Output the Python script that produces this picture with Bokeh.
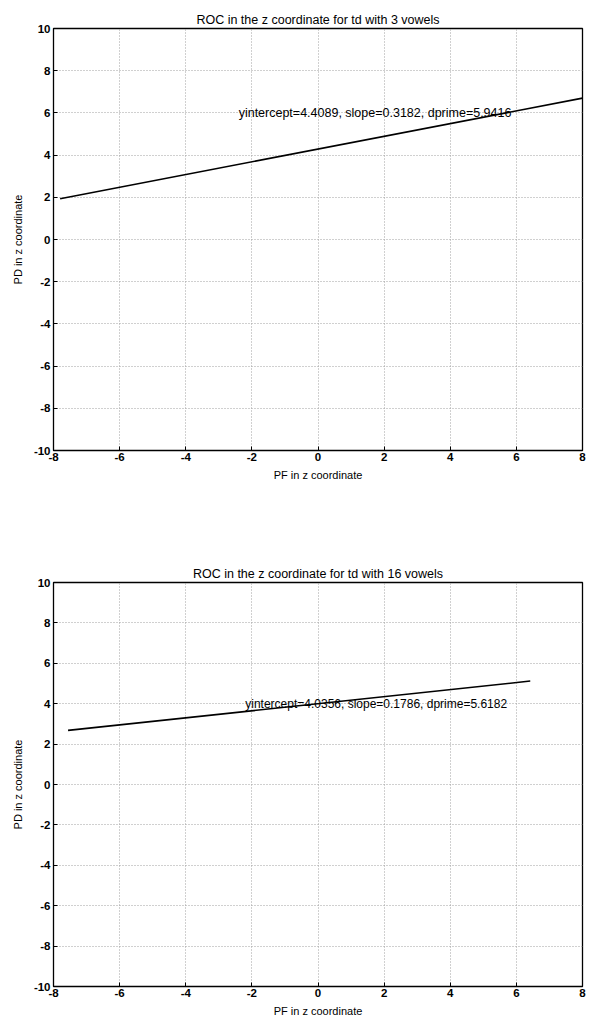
from bokeh.plotting import figure
from bokeh.layouts import column
from bokeh.models import Label, FixedTicker, Range1d, PrintfTickFormatter
from bokeh.embed import file_html
from bokeh.resources import INLINE

# ---- data ----
top_title = "ROC in the z coordinate for td with 3 vowels"
top_x = [-7.8, 8.0]
top_y = [1.93, 6.7]
top_note = "yintercept=4.4089, slope=0.3182, dprime=5.9416"

bot_title = "ROC in the z coordinate for td with 16 vowels"
bot_x = [-7.56, 6.42]
bot_y = [2.68, 5.12]
bot_note = "yintercept=4.0356, slope=0.1786, dprime=5.6182"

x_ticks = [-8, -6, -4, -2, 0, 2, 4, 6, 8]
y_ticks = [-10, -8, -6, -4, -2, 0, 2, 4, 6, 8, 10]
x_label = "PF in z coordinate"
y_label = "PD in z coordinate"

FONT = "Liberation Sans"


def style_axis(ax, tk):
    ax.ticker = FixedTicker(ticks=tk)
    ax.formatter = PrintfTickFormatter(format="%d")
    ax.major_tick_in = 4
    ax.major_tick_out = 0
    ax.minor_tick_in = 0
    ax.minor_tick_out = 0
    ax.major_tick_line_color = "black"
    ax.axis_line_color = "black"
    ax.major_label_text_font = FONT
    ax.major_label_text_font_size = "11.5px"
    ax.major_label_text_font_style = "bold"
    ax.major_label_text_color = "black"
    ax.axis_label_text_font = FONT
    ax.axis_label_text_font_size = "11px"
    ax.axis_label_text_font_style = "normal"
    ax.axis_label_text_color = "black"


def make_plot(title, xs, ys, note, note_x, note_y, note_size, height, top, bottom, left, right):
    p = figure(width=590, height=height, output_backend="svg", toolbar_location=None,
               x_range=Range1d(-8, 8), y_range=Range1d(-10, 10),
               min_border_top=top, min_border_bottom=bottom,
               min_border_left=left, min_border_right=right)
    p.title.text = title
    p.title.align = "center"
    p.title.text_font = FONT
    p.title.text_font_size = "12.5px"
    p.title.text_font_style = "normal"
    p.title.text_color = "black"
    p.title.standoff = 3
    p.title.offset = 0

    p.outline_line_color = "black"
    p.outline_line_width = 1.3
    p.outline_line_alpha = 1

    style_axis(p.xaxis[0], x_ticks)
    style_axis(p.yaxis[0], y_ticks)
    p.xaxis.major_label_standoff = 2
    p.yaxis.major_label_standoff = 3
    p.xaxis.axis_label = x_label
    p.yaxis.axis_label = y_label
    p.xaxis.axis_label_standoff = 5
    p.yaxis.axis_label_standoff = 7

    p.xgrid.ticker = FixedTicker(ticks=x_ticks)
    p.ygrid.ticker = FixedTicker(ticks=y_ticks)
    for g in (p.xgrid[0], p.ygrid[0]):
        g.grid_line_color = "#a0a0a0"
        g.grid_line_dash = "1 2"
        g.grid_line_width = 1
        g.grid_line_alpha = 1

    p.line(xs, ys, line_color="black", line_width=1.6)

    p.add_layout(Label(x=note_x, y=note_y, text=note, text_font=FONT,
                       text_font_size=note_size, text_baseline="middle",
                       text_align="left", text_color="black"))
    p.background_fill_color = "white"
    p.border_fill_color = "white"
    return p


p1 = make_plot(top_title, top_x, top_y, top_note, -2.4, 6.0, "12.5px",
               height=530, top=28, bottom=80, left=51, right=0)
p2 = make_plot(bot_title, bot_x, bot_y, bot_note, -2.2, 4.0, "12px",
               height=489, top=52, bottom=30, left=53, right=8)

layout = column(p1, p2, spacing=0)
open("out.html", "w").write(file_html(layout, INLINE))
